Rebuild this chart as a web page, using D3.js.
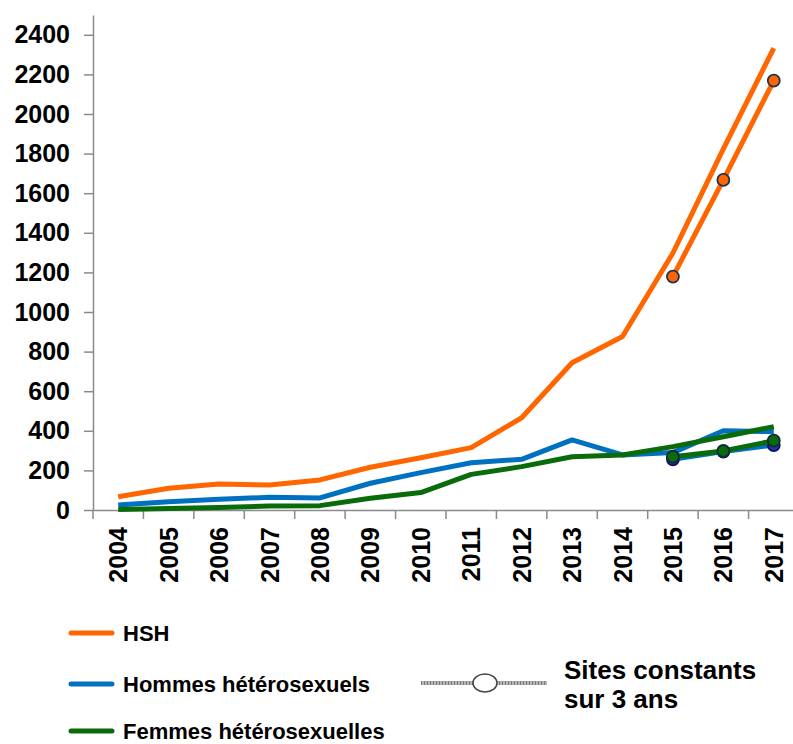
<!DOCTYPE html>
<html>
<head>
<meta charset="utf-8">
<script src="https://cdn.jsdelivr.net/npm/d3@7"></script>
<style>
  body { margin: 0; background: #fff; }
  svg { display: block; font-family: "Liberation Sans", Arial, sans-serif; font-weight: bold; }
</style>
</head>
<body>
<svg id="chart" width="793" height="744"></svg>
<script>
// data
var years = [2004, 2005, 2006, 2007, 2008, 2009, 2010, 2011, 2012, 2013, 2014, 2015, 2016, 2017];
var hsh = [67, 110, 131, 126, 152, 216, 264, 315, 466, 744, 876, 1298, 1824, 2333];
var hommes = [25, 42, 54, 64, 61, 135, 189, 239, 256, 354, 278, 290, 400, 396];
var femmes = [3, 7, 12, 20, 22, 59, 88, 180, 219, 269, 278, 320, 370, 421];

// sites constants sur 3 ans
var constYears = [2015, 2016, 2017];
var hshConst = [1179, 1667, 2169];
var hommesConst = [256, 295, 328];
var femmesConst = [269, 298, 350];

var yTicks = [0, 200, 400, 600, 800, 1000, 1200, 1400, 1600, 1800, 2000, 2200, 2400];

var orange = "#ff6600", blue = "#0070c0", green = "#0a6b0a", axisCol = "#8a8a8a";

var svg = d3.select("#chart");

var x = d3.scaleBand().domain(years).range([93, 799]).padding(0);
var y = d3.scaleLinear().domain([0, 2500]).range([510, 15]);
var cx = function(yr) { return x(yr) + x.bandwidth() / 2; };

// y axis
var yAxis = svg.append("g")
    .attr("transform", "translate(93,0)")
    .call(d3.axisLeft(y).tickValues(yTicks).tickFormat(d3.format("d"))
      .tickSize(9).tickSizeOuter(0).tickPadding(14));
yAxis.select(".domain").attr("stroke", axisCol).attr("stroke-width", 1.5);
yAxis.selectAll(".tick line").attr("stroke", axisCol).attr("stroke-width", 1.5);
yAxis.selectAll("text").attr("fill", "#000").style("font-size", "25px").style("font-weight", "bold")
    .style("font-family", "'Liberation Sans', Arial, sans-serif");

// x axis: labels at band centres, ticks on band edges
var xAxis = svg.append("g")
    .attr("transform", "translate(0,510)")
    .call(d3.axisBottom(x).tickSize(0).tickSizeOuter(0));
xAxis.select(".domain").attr("stroke", axisCol).attr("stroke-width", 1.5);
xAxis.selectAll("text")
    .attr("transform", "rotate(-90)")
    .attr("x", -17).attr("y", 0).attr("dy", "0.36em")
    .attr("text-anchor", "end")
    .attr("fill", "#000")
    .style("font-size", "25px").style("font-weight", "bold")
    .style("font-family", "'Liberation Sans', Arial, sans-serif");
xAxis.selectAll(".edge")
    .data(years)
  .enter().append("line")
    .attr("class", "edge")
    .attr("x1", function(d) { return x(d); }).attr("x2", function(d) { return x(d); })
    .attr("y1", 0).attr("y2", 9)
    .attr("stroke", axisCol).attr("stroke-width", 1.5);

var line = d3.line()
    .x(function(d) { return cx(d.year); })
    .y(function(d) { return y(d.value); });

function pair(yrs, vals) {
  return yrs.map(function(yr, i) { return { year: yr, value: vals[i] }; });
}

var mainSeries = [
  { vals: hsh, color: orange },
  { vals: hommes, color: blue },
  { vals: femmes, color: green }
];
var constSeries = [
  { vals: hshConst, color: orange, dot: orange, edge: "#1f3350" },
  { vals: hommesConst, color: blue, dot: "#1f3a99", edge: "#101060" },
  { vals: femmesConst, color: green, dot: green, edge: "#0f2a3a" }
];

mainSeries.forEach(function(s) {
  svg.append("path")
      .datum(pair(years, s.vals))
      .attr("d", line)
      .attr("fill", "none")
      .attr("stroke", s.color)
      .attr("stroke-width", 5)
      .attr("stroke-linejoin", "round");
});

constSeries.forEach(function(s) {
  var pts = pair(constYears, s.vals);
  svg.append("path")
      .datum(pts)
      .attr("d", line)
      .attr("fill", "none")
      .attr("stroke", s.color)
      .attr("stroke-width", 5)
      .attr("stroke-linejoin", "round");
  svg.selectAll(null)
      .data(pts)
    .enter().append("circle")
      .attr("cx", function(d) { return cx(d.year); })
      .attr("cy", function(d) { return y(d.value); })
      .attr("r", 6)
      .attr("fill", s.dot)
      .attr("stroke", s.edge)
      .attr("stroke-width", 1.8);
});

// legend
var legendItems = [
  { label: "HSH", color: orange, y: 633 },
  { label: "Hommes hétérosexuels", color: blue, y: 684 },
  { label: "Femmes hétérosexuelles", color: green, y: 731 }
];
var legend = svg.append("g");
legendItems.forEach(function(d) {
  legend.append("line")
      .attr("x1", 71).attr("x2", 112)
      .attr("y1", d.y).attr("y2", d.y)
      .attr("stroke", d.color).attr("stroke-width", 5).attr("stroke-linecap", "round");
  legend.append("text")
      .attr("x", 123).attr("y", d.y)
      .attr("dy", "0.36em")
      .style("font-size", "22px")
      .text(d.label);
});

// "sites constants" key
legend.append("line")
    .attr("x1", 421).attr("x2", 547).attr("y1", 683).attr("y2", 683)
    .attr("stroke", "#b5b5b5").attr("stroke-width", 4);
legend.append("line")
    .attr("x1", 421).attr("x2", 547).attr("y1", 683).attr("y2", 683)
    .attr("stroke", "#7a7a7a").attr("stroke-width", 4).attr("stroke-dasharray", "1,2");
legend.append("ellipse")
    .attr("cx", 485).attr("cy", 683).attr("rx", 12).attr("ry", 9)
    .attr("fill", "#fff").attr("stroke", "#444").attr("stroke-width", 1.5);
legend.append("text")
    .attr("x", 564).attr("y", 679)
    .style("font-size", "26px")
    .text("Sites constants");
legend.append("text")
    .attr("x", 564).attr("y", 708)
    .style("font-size", "26px")
    .text("sur 3 ans");
</script>
</body>
</html>
